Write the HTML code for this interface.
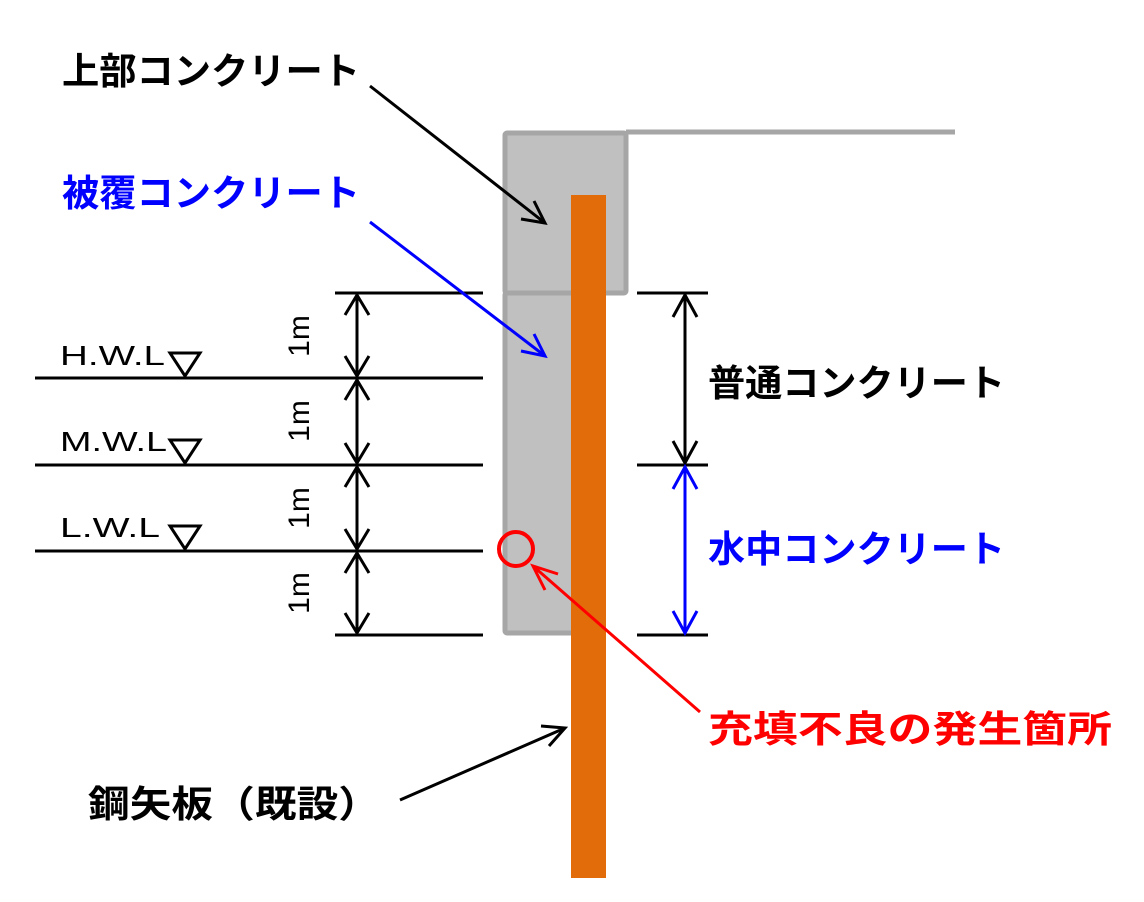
<!DOCTYPE html>
<html><head><meta charset="utf-8"><style>
body{margin:0;background:#fff}
svg{display:block}
text{font-family:"Liberation Sans","Noto Sans CJK JP",sans-serif}
.j{font-weight:bold;font-size:37px}
</style></head><body>
<svg width="1144" height="902" viewBox="0 0 1144 902" xmlns="http://www.w3.org/2000/svg">
<rect x="505" y="133" width="121" height="160" fill="#c0c0c0" stroke="#a6a6a6" stroke-width="5" rx="2"/>
<line x1="626" y1="132" x2="955" y2="132" stroke="#a6a6a6" stroke-width="5"/>
<rect x="505" y="293" width="80" height="340" fill="#c0c0c0" stroke="#a6a6a6" stroke-width="5" rx="2"/>
<rect x="571" y="195" width="35" height="683" fill="#e36c0a"/>
<g stroke="#000" stroke-width="3">
<line x1="335" y1="293" x2="483" y2="293"/>
<line x1="35" y1="378" x2="483" y2="378"/>
<line x1="35" y1="465" x2="483" y2="465"/>
<line x1="35" y1="551" x2="483" y2="551"/>
<line x1="335" y1="635" x2="483" y2="635"/>
<line x1="637" y1="293" x2="708" y2="293"/>
<line x1="637" y1="465" x2="708" y2="465"/>
<line x1="637" y1="635" x2="708" y2="635"/>
</g>
<g fill="#fff" stroke="#000" stroke-width="3">
<path d="M170,353 L200,353 L185,376 Z"/>
<path d="M170,440 L200,440 L185,463 Z"/>
<path d="M170,526 L200,526 L185,549 Z"/>
</g>
<g font-size="28" fill="#000">
<text x="60" y="365" textLength="105" lengthAdjust="spacingAndGlyphs">H.W.L</text>
<text x="60" y="451" textLength="107" lengthAdjust="spacingAndGlyphs">M.W.L</text>
<text x="60" y="537" textLength="100" lengthAdjust="spacingAndGlyphs">L.W.L</text>
</g>
<g font-size="30" fill="#000">
<text transform="translate(309,336) rotate(-90)" text-anchor="middle">1m</text>
<text transform="translate(309,421) rotate(-90)" text-anchor="middle">1m</text>
<text transform="translate(309,508) rotate(-90)" text-anchor="middle">1m</text>
<text transform="translate(309,593) rotate(-90)" text-anchor="middle">1m</text>
</g>
<g fill="none" stroke="#000" stroke-width="3">
<path d="M357,295 V376 M345,315 L357,295 L369,315 M345,356 L357,376 L369,356"/>
<path d="M357,380 V463 M345,400 L357,380 L369,400 M345,443 L357,463 L369,443"/>
<path d="M357,467 V549 M345,487 L357,467 L369,487 M345,529 L357,549 L369,529"/>
<path d="M357,553 V633 M345,573 L357,553 L369,573 M345,613 L357,633 L369,613"/>
<path d="M685,295 V463 M673,317 L685,295 L697,317 M673,441 L685,463 L697,441"/>
</g>
<g fill="none" stroke="#0000ff" stroke-width="3">
<path d="M685,467 V633 M673,489 L685,467 L697,489 M673,611 L685,633 L697,611"/>
</g>
<g fill="none" stroke-width="3">
<path d="M370,86 L545,223 M521,219 L545,223 L534,201" stroke="#000"/>
<path d="M370,222 L545,356 M521,351 L545,356 L534,334" stroke="#0000ff"/>
<path d="M400,800 L565,728 M541,726 L565,728 L549,746" stroke="#000"/>
<path d="M700,712 L533,566 M545,590 L533,566 L558,574" stroke="#ff0000"/>
</g>
<circle cx="516" cy="549" r="17" fill="none" stroke="#ff0000" stroke-width="4"/>
<text class="j" x="62" y="84" fill="#000" textLength="298" lengthAdjust="spacingAndGlyphs">上部コンクリート</text>
<text class="j" x="62" y="206" fill="#0000ff" textLength="298" lengthAdjust="spacingAndGlyphs">被覆コンクリート</text>
<text class="j" x="708" y="396" fill="#000" textLength="297" lengthAdjust="spacingAndGlyphs">普通コンクリート</text>
<text class="j" x="708" y="562" fill="#0000ff" textLength="297" lengthAdjust="spacingAndGlyphs">水中コンクリート</text>
<text class="j" x="708" y="742" fill="#ff0000" textLength="404" lengthAdjust="spacingAndGlyphs">充填不良の発生箇所</text>
<text class="j" x="88" y="817" fill="#000" textLength="292" lengthAdjust="spacingAndGlyphs">鋼矢板（既設）</text>
</svg>
</body></html>
